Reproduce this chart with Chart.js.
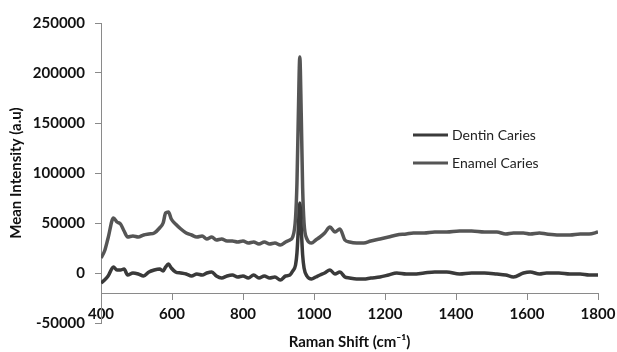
<!DOCTYPE html>
<html>
<head>
<meta charset="utf-8">
<script src="https://cdn.jsdelivr.net/npm/chart.js@4"></script>
<style>
  html, body { margin: 0; padding: 0; background: #fff; }
  #wrap { width: 617px; height: 352px; }
</style>
</head>
<body>
<div id="wrap"><canvas id="ramanChart" width="617" height="352"></canvas></div>
<script>
// Raman shift positions (cm-1) and mean intensities
const ramanShift = [400, 410, 420, 435, 445, 455, 465, 475, 490, 505, 520, 535, 550, 565, 575, 582, 590, 598, 610, 625,
  640, 655, 670, 685, 698, 712, 725, 740, 755, 770, 785, 800, 815, 830, 845, 860, 875, 890, 905, 920,
  932, 940, 948, 952, 956, 960, 964, 968, 972, 980, 993, 1005, 1017, 1030, 1045, 1059, 1073, 1087, 1100, 1120,
  1140, 1160, 1186, 1210, 1233, 1260, 1280, 1310, 1340, 1374, 1410, 1444, 1480, 1515, 1540, 1562, 1590, 1609, 1635, 1655,
  1690, 1721, 1750, 1775, 1800];

const dentinCaries = [-10000, -7000, -3000, 6000, 3000, 3000, 4000, -2000, 0, -1000, -3000, 1000, 3000, 4000, 2000, 6000, 9000, 5000, 1000, 0,
  -1000, -3000, -1000, -2000, 0, 1000, -3000, -5000, -3000, -2000, -4000, -3000, -5000, -2000, -5000, -3000, -5000, -4000, -7000, -3000,
  -2000, 2000, 8000, 20000, 45000, 70000, 45000, 18000, 5000, -3000, -6000, -4000, -2000, 0, 3000, -1000, 1000, -4000, -5000, -6000,
  -6000, -5000, -4000, -2000, 0, -1000, -1000, 0, 1000, 1000, -1000, 0, 0, -1000, -2000, -4000, 0, 1000, -1000, 0,
  0, -1000, -1000, -2000, -2000];

const enamelCaries = [15000, 22000, 35000, 55000, 51000, 49000, 42000, 36000, 37000, 36000, 38000, 39000, 40000, 45000, 50000, 60000, 61000, 54000, 49000, 44000,
  40000, 38000, 36000, 37000, 34000, 36000, 33000, 34000, 32000, 32000, 31000, 32000, 30000, 31000, 29000, 31000, 29000, 30000, 28000, 31000,
  33000, 36000, 55000, 90000, 160000, 216000, 160000, 85000, 50000, 34000, 30000, 33000, 36000, 40000, 46000, 41000, 44000, 33000, 31000, 30000,
  30000, 32000, 34000, 36000, 38000, 39000, 40000, 40000, 41000, 41000, 42000, 42000, 41000, 41000, 39000, 40000, 40000, 39000, 40000, 39000,
  38000, 38000, 39000, 39000, 41000];

const seriesNames = ["Dentin Caries", "Enamel Caries"];
const seriesColors = ["#3a3a3a", "#555555"];

const toPoints = vals => ramanShift.map((x, i) => ({ x: x, y: vals[i] }));
const plainNumber = v => String(v);

// legend drawn inside the plot, like the original
const sideLegend = {
  id: "sideLegend",
  afterDraw(chart) {
    const ctx = chart.ctx;
    ctx.save();
    ctx.font = "14px Lato";
    ctx.textBaseline = "middle";
    ctx.fillStyle = "#222";
    ctx.lineWidth = 3;
    seriesNames.forEach((name, i) => {
      const y = 135 + i * 28;
      ctx.strokeStyle = seriesColors[i];
      ctx.beginPath();
      ctx.moveTo(413, y);
      ctx.lineTo(448, y);
      ctx.stroke();
      ctx.fillText(name, 452, y);
    });
    ctx.restore();
  }
};

new Chart(document.getElementById("ramanChart"), {
  type: "line",
  data: {
    datasets: [
      { label: seriesNames[0], data: toPoints(dentinCaries), borderColor: seriesColors[0], borderWidth: 3.5, pointRadius: 0, cubicInterpolationMode: "monotone" },
      { label: seriesNames[1], data: toPoints(enamelCaries), borderColor: seriesColors[1], borderWidth: 3.5, pointRadius: 0, cubicInterpolationMode: "monotone" }
    ]
  },
  options: {
    responsive: false,
    animation: false,
    layout: { padding: { left: 7, top: 23, right: 19, bottom: 29 } },
    plugins: {
      legend: { display: false },
      tooltip: { enabled: false }
    },
    scales: {
      x: {
        type: "linear",
        position: { y: -20000 },
        min: 400,
        max: 1800,
        ticks: { stepSize: 200, color: "#111", font: { family: "Lato", size: 15, weight: "bold" }, padding: 6, maxRotation: 0, callback: plainNumber },
        grid: { drawOnChartArea: false, drawTicks: true, tickLength: 6, color: "#8a8a8a" },
        border: { color: "#8a8a8a" },
        title: { display: true, text: "Raman Shift (cm\u207B\u00B9)", color: "#111", font: { family: "Lato", size: 15, weight: "bold" }, padding: { top: 4 } },
        afterFit(scale) { scale.paddingLeft = 0; scale.paddingRight = 0; }
      },
      y: {
        min: -50000,
        max: 250000,
        ticks: { stepSize: 50000, color: "#111", font: { family: "Lato", size: 15, weight: "bold" }, padding: 10, callback: plainNumber },
        grid: { drawOnChartArea: false, drawTicks: true, tickLength: 6, color: "#8a8a8a" },
        border: { color: "#8a8a8a" },
        title: { display: true, text: "Mean Intensity (a.u)", color: "#111", font: { family: "Lato", size: 15, weight: "bold" }, padding: 0 },
        afterFit(scale) { scale.width = 94; }
      }
    }
  },
  plugins: [sideLegend]
});
</script>
</body>
</html>
